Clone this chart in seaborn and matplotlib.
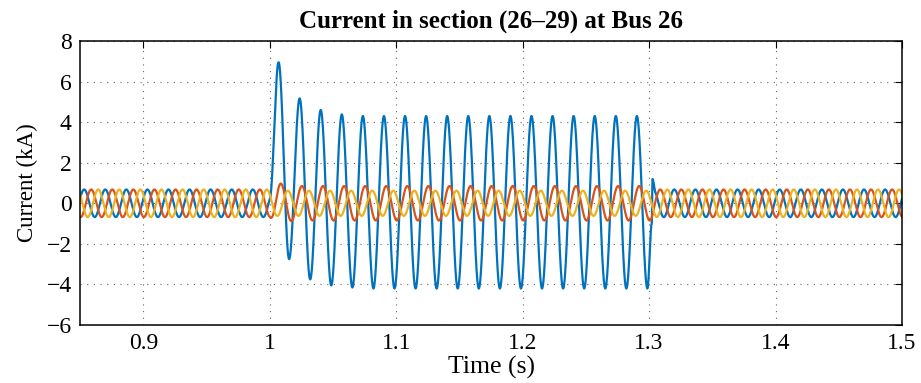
import numpy as np
import pandas as pd
import matplotlib
matplotlib.use("Agg")
import matplotlib.pyplot as plt
import seaborn as sns

### values
freq = 60.0                 # Hz, one cycle ~ 0.0167 s
t_start, t_end = 0.85, 1.5
t_blue_peak = 0.9866        # a blue peak just before the fault
t_fault = 1.0
t_after_clear = 1.305
amp_normal = 0.68           # kA, healthy phases

# blue phase during the fault: peaks and troughs, one per cycle
t_first_peak = 1.007
blue_peaks = [6.95, 5.17, 4.6, 4.38, 4.3, 4.3, 4.3, 4.3, 4.3,
              4.3, 4.3, 4.3, 4.3, 4.3, 4.3, 4.3, 4.3, 4.3]
blue_troughs = [-2.75, -3.75, -4.05, -4.15, -4.2, -4.2, -4.2, -4.2, -4.2,
                -4.2, -4.2, -4.2, -4.2, -4.2, -4.2, -4.2, -4.2, -4.2]

# small spike when the breaker opens
clear_times = [1.3021, 1.3027]
clear_values = [-1.0, 1.2]

# amplitude of red / yellow phases around the fault
red_env_t = [1.0, 1.006, 1.02, 1.302, 1.306]
red_env_a = [0.68, 1.0, 0.85, 0.85, 0.68]
yel_env_t = [1.0, 1.006, 1.302, 1.306]
yel_env_a = [0.68, 0.62, 0.62, 0.68]

phase_names = ["A", "B", "C"]
phase_shift = [0.0, -1.0 / 3, 1.0 / 3]   # in cycles, red lags, yellow leads
colors = ["#0072BD", "#D95319", "#EDB120"]

x_ticks = [0.9, 1.0, 1.1, 1.2, 1.3, 1.4, 1.5]
x_labels = ["0.9", "1", "1.1", "1.2", "1.3", "1.4", "1.5"]
y_ticks = [-6, -4, -2, 0, 2, 4, 6, 8]


### helpers
def wave(t, amp, shift):
    return amp * np.cos(2 * np.pi * (freq * (t - t_blue_peak) + shift))


def half_cos_path(t, kt, kv):
    # join the extremes with half cosine arcs
    kt = np.asarray(kt)
    kv = np.asarray(kv)
    idx = np.clip(np.searchsorted(kt, t, side="right") - 1, 0, len(kt) - 2)
    u = np.clip((t - kt[idx]) / (kt[idx + 1] - kt[idx]), 0, 1)
    w = (1 - np.cos(np.pi * u)) / 2
    return kv[idx] + (kv[idx + 1] - kv[idx]) * w


t = np.arange(t_start, t_end + 1e-6, 1e-5)

# blue
half = 1 / (2 * freq)
kt = [t_fault]
kv = [wave(t_fault, amp_normal, 0.0)]
for k in range(len(blue_peaks)):
    kt += [t_first_peak + 2 * k * half, t_first_peak + (2 * k + 1) * half]
    kv += [blue_peaks[k], blue_troughs[k]]
kt += clear_times + [t_after_clear]
kv += clear_values + [wave(t_after_clear, amp_normal, 0.0)]
blue = wave(t, amp_normal, 0.0)
mask = (t >= t_fault) & (t <= t_after_clear)
blue[mask] = half_cos_path(t[mask], kt, kv)

red = wave(t, np.interp(t, red_env_t, red_env_a), phase_shift[1])
yellow = wave(t, np.interp(t, yel_env_t, yel_env_a), phase_shift[2])

df = pd.DataFrame({
    "time": np.concatenate([t, t, t]),
    "current": np.concatenate([blue, red, yellow]),
    "phase": np.repeat(phase_names, len(t)),
})

### plot
sns.set_theme(style="white")
plt.rcParams["font.family"] = ["Liberation Serif", "DejaVu Serif"]
plt.rcParams["axes.unicode_minus"] = True
plt.rcParams["text.color"] = "black"
plt.rcParams["axes.labelcolor"] = "black"

fig = plt.figure(figsize=(9.21, 3.83), dpi=100)
ax = fig.add_axes([0.0869, 0.1514, 0.8925, 0.7416])

sns.lineplot(data=df, x="time", y="current", hue="phase",
             palette=colors, linewidth=1.6, legend=False,
             estimator=None, sort=False, ax=ax)

ax.set_xlim(t_start, t_end)
ax.set_ylim(-6, 8)
ax.set_xticks(x_ticks)
ax.set_xticklabels(x_labels)
ax.set_yticks(y_ticks)
ax.tick_params(direction="in", length=5, width=0.8, top=True, right=True,
               labelsize=17, colors="black", pad=6)
ax.grid(True, linestyle=(0, (1, 5)), color="#666666", linewidth=0.8)
for s in ax.spines.values():
    s.set_color("black")
    s.set_linewidth(1.1)

ax.set_title("Current in section (26\u201329) at Bus 26", fontsize=18,
             fontweight="bold", pad=10, color="black")
ax.set_xlabel("Time (s)", fontsize=18.5, labelpad=1)
ax.set_ylabel("Current (kA)", fontsize=16.5, labelpad=6)

fig.savefig("out.png", dpi=100)
